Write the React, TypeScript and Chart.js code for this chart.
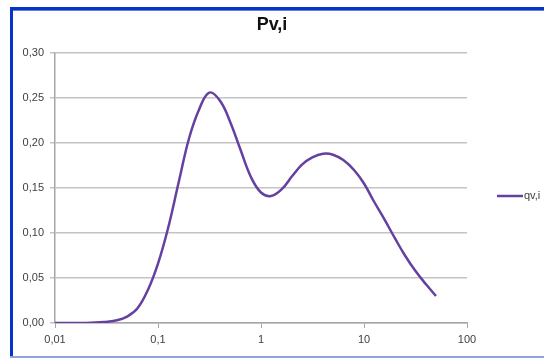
import React, { useEffect, useRef } from "react";
import { Chart, registerables } from "chart.js";

Chart.register(...registerables);

const title = "Pv,i";
const seriesName = "qv,i";
const sizes = [0.01, 0.02, 0.03, 0.04, 0.05, 0.063, 0.08, 0.1, 0.125, 0.16, 0.2, 0.25, 0.315, 0.4, 0.5, 0.63, 0.8, 1, 1.25, 1.6, 2, 2.5, 3.15, 4, 5, 6.3, 8, 10, 12.5, 16, 20, 25, 31.5, 40, 50];
const values = [0, 0, 0.001, 0.003, 0.007, 0.016, 0.037, 0.066, 0.105, 0.158, 0.205, 0.237, 0.256, 0.247, 0.224, 0.193, 0.162, 0.145, 0.141, 0.149, 0.163, 0.176, 0.184, 0.188, 0.187, 0.181, 0.17, 0.155, 0.135, 0.114, 0.094, 0.075, 0.058, 0.043, 0.03];
const xTicks = [0.01, 0.1, 1, 10, 100];
const xTickLabels = ["0,01", "0,1", "1", "10", "100"];
const yTicks = [0, 0.05, 0.1, 0.15, 0.2, 0.25, 0.3];

const LINE_COLOR = "#6441a0";
const TEXT_COLOR = "#404040";
const GRID_COLOR = "#c4c4c4";

export default function App() {
  const ref = useRef<HTMLCanvasElement | null>(null);

  useEffect(() => {
    if (!ref.current) return;
    const overlayPlugin = {
      id: "titleLegend",
      afterDraw(chart: any) {
        const ctx = chart.ctx;
        const area = chart.chartArea;
        ctx.save();
        // title
        ctx.fillStyle = "#111";
        ctx.font = "bold 18px 'Liberation Sans', sans-serif";
        ctx.textAlign = "center";
        ctx.textBaseline = "middle";
        ctx.fillText(title, chart.width / 2, 25);
        // legend
        const y = (area.top + area.bottom) / 2 + 8;
        const x0 = area.right + 30;
        ctx.strokeStyle = LINE_COLOR;
        ctx.lineWidth = 2.5;
        ctx.beginPath();
        ctx.moveTo(x0, y);
        ctx.lineTo(x0 + 26, y);
        ctx.stroke();
        ctx.fillStyle = TEXT_COLOR;
        ctx.font = "11px 'Liberation Sans', sans-serif";
        ctx.textAlign = "left";
        ctx.fillText(seriesName, x0 + 27, y);
        ctx.restore();
      },
    };
    const chart = new Chart(ref.current, {
      type: "line",
      data: {
        datasets: [
          {
            label: seriesName,
            data: sizes.map((s, i) => ({ x: s, y: values[i] })),
            borderColor: LINE_COLOR,
            borderWidth: 2.5,
            pointRadius: 0,
            tension: 0.4,
            fill: false,
          },
        ],
      },
      options: {
        animation: false,
        responsive: false,
        maintainAspectRatio: false,
        layout: { padding: { left: 0, right: 77, top: 53, bottom: 0 } },
        plugins: {
          legend: { display: false },
          tooltip: { enabled: false },
          title: { display: false },
        },
        scales: {
          x: {
            type: "logarithmic",
            min: 0.01,
            max: 100,
            afterBuildTicks: (scale: any) => {
              scale.ticks = xTicks.map((v) => ({ value: v }));
            },
            afterFit: (scale: any) => {
              scale.height = 35;
            },
            ticks: {
              autoSkip: false,
              maxRotation: 0,
              padding: 5,
              color: TEXT_COLOR,
              font: { family: "'Liberation Sans', sans-serif", size: 11 },
              callback: (v: any) => {
                const i = xTicks.findIndex((t) => Math.abs(t - v) < 1e-9);
                return i >= 0 ? xTickLabels[i] : "";
              },
            },
            grid: {
              drawOnChartArea: false,
              drawTicks: true,
              tickLength: 5,
              color: "#a6a6a6",
              lineWidth: 1,
            },
            border: { color: "#a6a6a6", width: 1.5 },
          },
          y: {
            type: "linear",
            min: 0,
            max: 0.3,
            afterBuildTicks: (scale: any) => {
              scale.ticks = yTicks.map((v) => ({ value: v }));
            },
            afterFit: (scale: any) => {
              scale.width = 55;
            },
            ticks: {
              padding: 6,
              color: TEXT_COLOR,
              font: { family: "'Liberation Sans', sans-serif", size: 11 },
              callback: (v: any) => Number(v).toFixed(2).replace(".", ","),
            },
            grid: {
              color: GRID_COLOR,
              lineWidth: 1.5,
              tickLength: 5,
            },
            border: { color: "#a6a6a6", width: 1.5 },
          },
        },
      },
      plugins: [overlayPlugin],
    });
    return () => chart.destroy();
  }, []);

  return (
    <div style={{ position: "absolute", left: 0, top: 0, width: 544, height: 358, background: "#fff", overflow: "hidden" }}>
      <canvas ref={ref} width={544} height={358} style={{ position: "absolute", left: 0, top: 0, width: 544, height: 358 }} />
      <div style={{ position: "absolute", left: 10, top: 7, width: 534, height: 3, background: "#0633cc", pointerEvents: "none" }} />
      <div style={{ position: "absolute", left: 10, top: 10, width: 534, height: 1, background: "#5f7fe0", pointerEvents: "none" }} />
      <div style={{ position: "absolute", left: 10, top: 7, width: 3, height: 350, background: "#0633cc", pointerEvents: "none" }} />
      <div style={{ position: "absolute", left: 10, top: 356, width: 534, height: 2, background: "#8fa2e2", pointerEvents: "none" }} />
    </div>
  );
}
